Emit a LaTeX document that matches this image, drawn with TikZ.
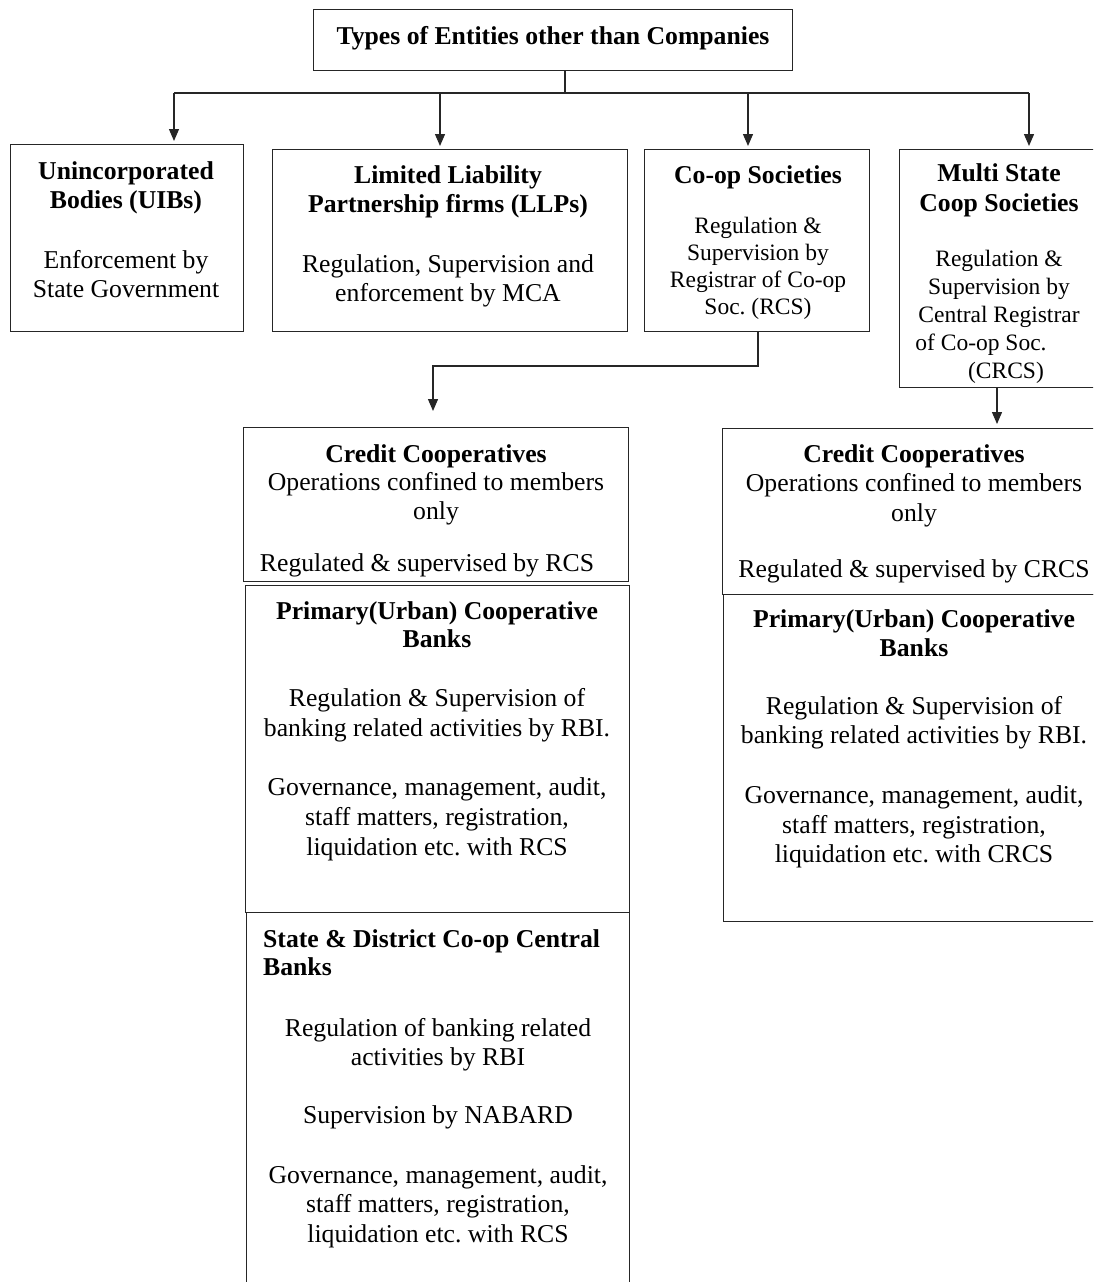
\documentclass[tikz,border=0pt]{standalone}
\usepackage{fontspec}
\setmainfont{Liberation Serif}
\usetikzlibrary{arrows.meta}
\frenchspacing
\begin{document}
\begin{tikzpicture}[x=1pt,y=1pt,
  box/.style={draw=black!85, line width=1.3pt, inner sep=0pt, anchor=north west},
  txt/.style={align=center, inner sep=0pt, anchor=north, font=\fontsize{25.7}{29.6}\selectfont},
  conn/.style={draw=black!85, line width=1.3pt},
  arr/.style={conn, -{Triangle[width=10pt,length=12pt]}},
]
\frenchspacing
\useasboundingbox (0,0) rectangle (1093,-1282);
\begin{scope}
\clip (0,0) rectangle (1093,-1282);
% boxes
\node[box, minimum width=479pt, minimum height=61pt] (top) at (313,-9) {};
\node[box, minimum width=233pt, minimum height=187pt] (uib) at (10,-144) {};
\node[box, minimum width=355pt, minimum height=182pt] (llp) at (272,-149) {};
\node[box, minimum width=225pt, minimum height=182pt] (coop) at (644,-149) {};
\node[box, minimum width=210pt, minimum height=238pt] (multi) at (899,-149) {};
\node[box, minimum width=385pt, minimum height=154pt] (credl) at (243,-427) {};
\node[box, minimum width=384pt, minimum height=327pt] (priml) at (245,-585) {};
\node[box, minimum width=383pt, minimum height=400pt] (state) at (246,-912) {};
\node[box, minimum width=380pt, minimum height=166pt] (credr) at (722,-428) {};
\node[box, minimum width=380pt, minimum height=327pt] (primr) at (723,-594) {};
\end{scope}
% texts
\node[txt, anchor=center, font=\fontsize{25.7}{29.6}\selectfont\bfseries] (toptext) at (553,-38) {Types of Entities other than Companies};
\node[txt] (uibtext) at (126,-161) {\textbf{Unincorporated}\\\textbf{Bodies (UIBs)}\\[30pt]Enforcement by\\State Government};
\node[txt] (llptext) at (448,-165) {\textbf{Limited Liability}\\\textbf{Partnership firms (LLPs)}\\[30pt]Regulation, Supervision and\\enforcement by MCA};
\node[txt, font=\fontsize{23.5}{27}\selectfont] (cooptext) at (758,-165) {{\fontsize{25.7}{29.6}\selectfont\bfseries Co-op Societies}\\[23pt]Regulation \&\\Supervision by\\Registrar of Co-op\\Soc. (RCS)};
\node[txt, font=\fontsize{23.5}{28}\selectfont] (multitext) at (999,-163) {{\fontsize{25.7}{29.6}\selectfont\bfseries Multi State}\\[2pt]{\fontsize{25.7}{29.6}\selectfont\bfseries Coop Societies}\\[27pt]Regulation \&\\Supervision by\\Central Registrar\\\hspace*{-36pt}of Co-op Soc.\\\hspace*{14pt}(CRCS)};
\node[txt] (credltext) at (436,-444) {\textbf{Credit Cooperatives}\\[-1.6pt]Operations confined to members\\only\\[22pt]\hspace*{-18pt}Regulated \& supervised by RCS};
\node[txt] (credrtext) at (914,-444) {\textbf{Credit Cooperatives}\\Operations confined to members\\only\\[27pt]Regulated \& supervised by CRCS};
\node[txt] (primltext) at (437,-601) {\textbf{Primary(Urban) Cooperative}\\[-1.6pt]\textbf{Banks}\\[30pt]Regulation \& Supervision of\\banking related activities by RBI.\\[30pt]Governance, management, audit,\\staff matters, registration,\\liquidation etc. with RCS};
\node[txt] (primrtext) at (914,-609) {\textbf{Primary(Urban) Cooperative}\\\textbf{Banks}\\[28pt]Regulation \& Supervision of\\banking related activities by RBI.\\[30pt]Governance, management, audit,\\staff matters, registration,\\liquidation etc. with CRCS};
\node[txt, anchor=north west, align=left, font=\fontsize{25.7}{29.6}\selectfont\bfseries] (statehead) at (263,-929) {State \& District Co-op Central\\[-1pt]Banks};
\node[txt] (statetext) at (438,-1018) {Regulation of banking related\\activities by RBI\\[28pt]Supervision by NABARD\\[30pt]Governance, management, audit,\\staff matters, registration,\\liquidation etc. with RCS};
% connectors
\coordinate (hub) at (565,-93);
\coordinate (b1) at (174,-93);
\coordinate (b2) at (440,-93);
\coordinate (b3) at (748,-93);
\coordinate (b4) at (1029,-93);
\draw[conn] (top.south -| hub) -- (hub);
\draw[conn] (b1) -- (b4);
\draw[arr, shorten >=3pt] (b1) -- (b1 |- uib.north);
\draw[arr, shorten >=3pt] (b2) -- (b2 |- llp.north);
\draw[arr, shorten >=3pt] (b3) -- (b3 |- coop.north);
\draw[arr, shorten >=3pt] (b4) -- (b4 |- multi.north);
\coordinate (c1) at (758,-366);
\coordinate (c2) at (433,-366);
\draw[arr, shorten >=16pt] (coop.south -| c1) -- (c1) -- (c2) -- (c2 |- credl.north);
\coordinate (m1) at (997,-400);
\draw[arr, shorten >=4pt] (multi.south -| m1) -- (m1 |- credr.north);
\end{tikzpicture}
\end{document}
